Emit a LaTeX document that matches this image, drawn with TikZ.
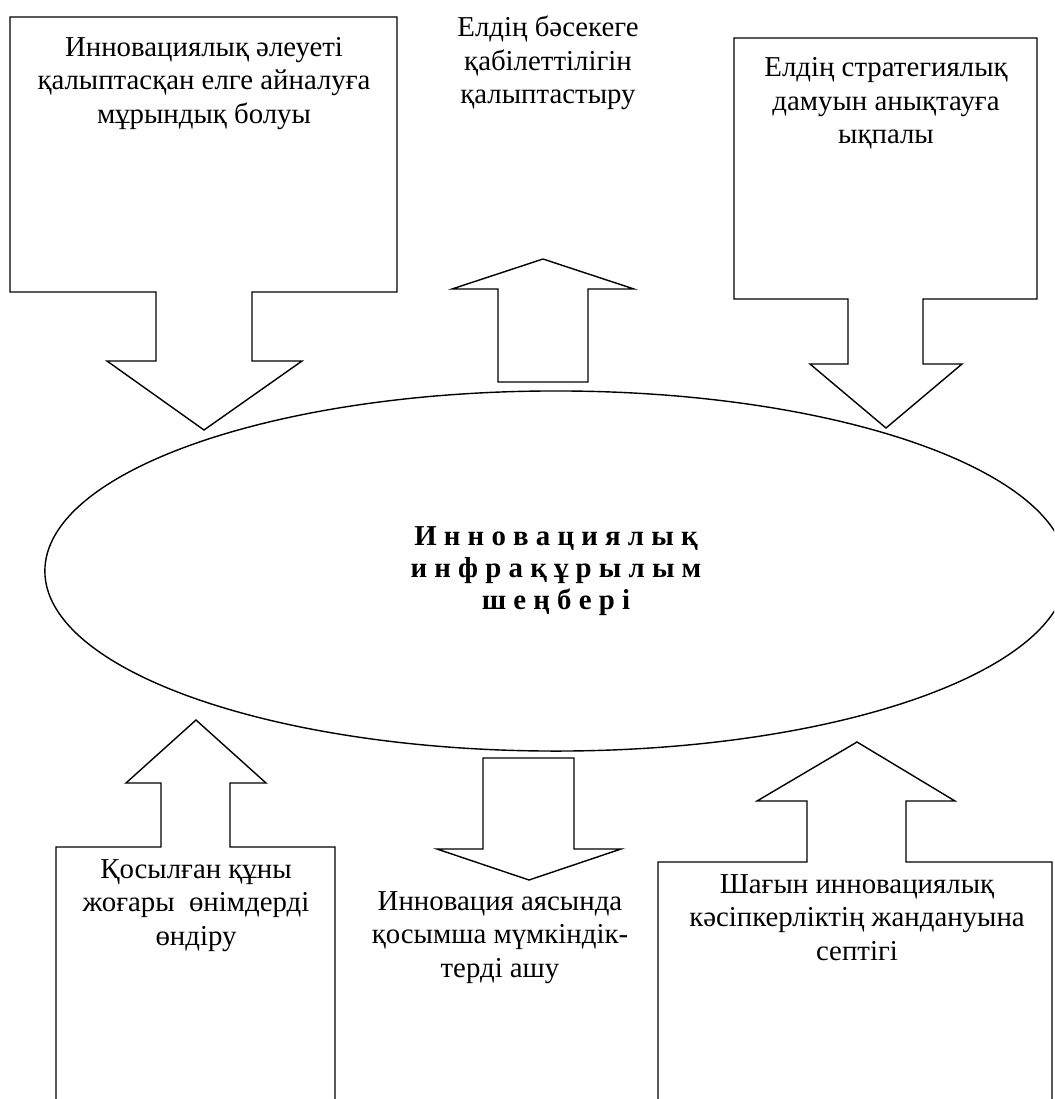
\documentclass[tikz,border=0pt]{standalone}
\usepackage{fontspec}
\setmainfont{Liberation Serif}
\usetikzlibrary{shapes.geometric}

\begin{document}
\begin{tikzpicture}[x=0.025cm, y=-0.025cm, line width=1pt,
    callout/.style={draw=black, line join=miter},
    boxtext/.style={anchor=north, align=center, inner sep=0pt, font=\fontsize{20.5}{23.8}\selectfont},
    ring/.style={ellipse, draw=black, minimum width=25.55cm, minimum height=9cm, align=center, inner sep=0pt, font=\bfseries\fontsize{20.5}{22.8}\selectfont}]
    \path[use as bounding box, clip] (0,0) rectangle (1054,1099);

    \node[ring] (ring) at (556,571) {И н н о в а ц и я л ы қ\\и н ф р а қ ұ р ы л ы м\\ш е ң б е р і};

    \draw[callout] (10,17) -- (397,17) -- (397,292) -- (252,292) -- (252,361) -- (302,361) -- (204,430) -- (107,361) -- (156,361) -- (156,292) -- (10,292) -- cycle;
    \draw[callout] (734,38) -- (1037,38) -- (1037,299) -- (923,299) -- (923,364) -- (962,364) -- (886,428) -- (810,364) -- (848,364) -- (848,299) -- (734,299) -- cycle;
    \draw[callout] (498,382) -- (498,289) -- (452,289) -- (543,259) -- (634,289) -- (588,289) -- (588,382) -- cycle;
    \draw[callout] (483,758) -- (574,758) -- (574,849) -- (621,849) -- (529,880) -- (437,849) -- (483,849) -- cycle;
    \draw[callout] (56,1110) -- (56,847) -- (161,847) -- (161,783) -- (126,783) -- (196,720) -- (266,783) -- (230,783) -- (230,847) -- (335,847) -- (335,1110);
    \draw[callout] (658,1110) -- (658,862) -- (807,862) -- (807,801) -- (757,801) -- (857,742) -- (955,801) -- (906,801) -- (906,862) -- (1052,862) -- (1052,1110);

    \node[boxtext] (potential) at (204,36.5) {Инновациялық әлеуеті\\қалыптасқан елге айналуға\\мұрындық болуы};
    \node[boxtext] (compete) at (548,15.5) {Елдің бәсекеге\\қабілеттілігін\\қалыптастыру};
    \node[boxtext] (strategy) at (886,57) {Елдің стратегиялық\\дамуын анықтауға\\ықпалы};
    \node[boxtext] (products) at (196,858.5) {Қосылған құны\\жоғары~ өнімдерді\\өндіру};
    \node[boxtext] (chances) at (500,890.5) {Инновация аясында\\қосымша мүмкіндік-\\терді ашу};
    \node[boxtext] (business) at (857,873.5) {Шағын инновациялық\\кәсіпкерліктің жандануына\\септігі};

  \end{tikzpicture}
\end{document}
